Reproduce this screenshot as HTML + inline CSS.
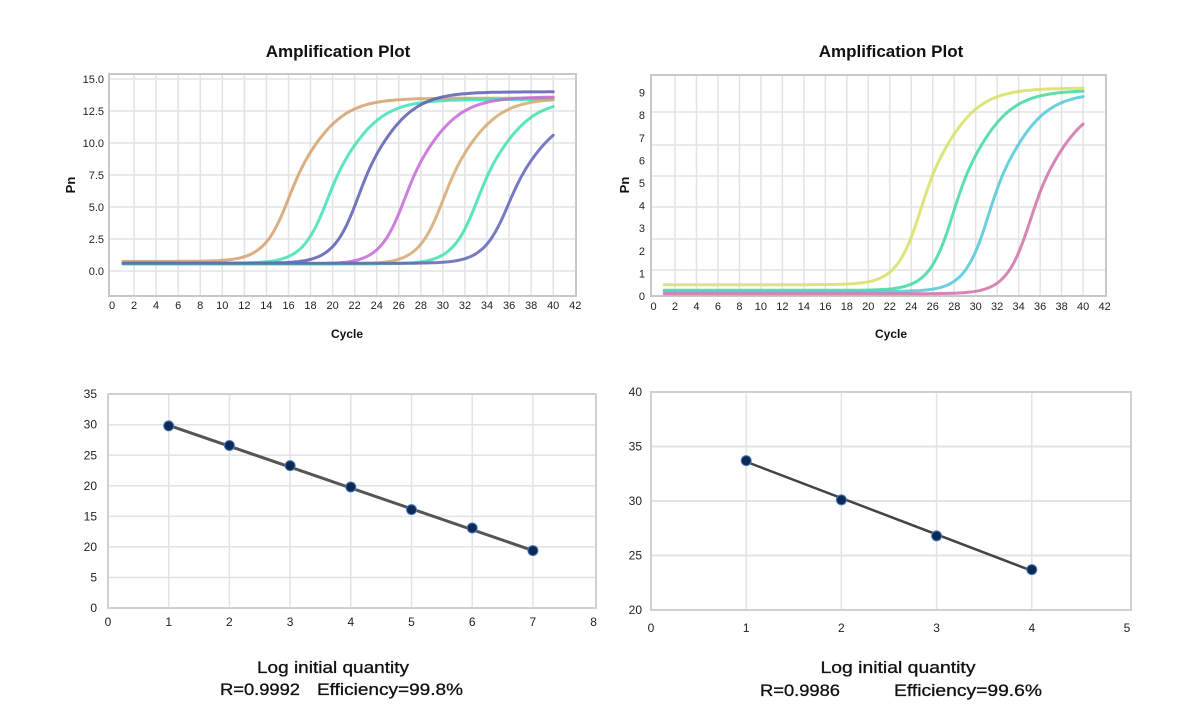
<!DOCTYPE html>
<html><head><meta charset="utf-8">
<style>
html,body{margin:0;padding:0;background:#fff;}
svg{display:block;font-family:"Liberation Sans",sans-serif;}
</style></head>
<body>
<svg id="s" width="1200" height="722" viewBox="0 0 1200 722" xmlns="http://www.w3.org/2000/svg">
<rect width="1200" height="722" fill="#fff"/>
<g id="g"></g>
<text x="338" y="57" text-anchor="middle" font-size="17" font-weight="bold" fill="#111">Amplification Plot</text>
<text x="891" y="57" text-anchor="middle" font-size="17" font-weight="bold" fill="#111">Amplification Plot</text>
<text x="347" y="338" text-anchor="middle" font-size="12" font-weight="bold" fill="#111">Cycle</text>
<text x="891" y="338" text-anchor="middle" font-size="12" font-weight="bold" fill="#111">Cycle</text>
<text transform="translate(75,185) rotate(-90)" text-anchor="middle" font-size="13" font-weight="bold" fill="#111">Pn</text>
<text transform="translate(629,185) rotate(-90)" text-anchor="middle" font-size="13" font-weight="bold" fill="#111">Pn</text>
<g font-size="17" fill="#111" text-anchor="middle" stroke="#111" stroke-width="0.3">
<text x="333" y="673" textLength="152" lengthAdjust="spacingAndGlyphs">Log initial quantity</text>
<text x="260" y="695" textLength="80" lengthAdjust="spacingAndGlyphs">R=0.9992</text>
<text x="390" y="695" textLength="146" lengthAdjust="spacingAndGlyphs">Efficiency=99.8%</text>
<text x="898" y="673" textLength="155" lengthAdjust="spacingAndGlyphs">Log initial quantity</text>
<text x="800" y="696" textLength="80" lengthAdjust="spacingAndGlyphs">R=0.9986</text>
<text x="968" y="696" textLength="148" lengthAdjust="spacingAndGlyphs">Efficiency=99.6%</text>
</g>
</svg>
<script>
var g=document.getElementById('g'),NS="http://www.w3.org/2000/svg";
function el(t,a,txt){var e=document.createElementNS(NS,t);for(var k in a)e.setAttribute(k,a[k]);if(txt!==undefined)e.textContent=txt;g.appendChild(e);return e;}
// ---- top-left
var L=109,T=74,R=576,B=296;
function xl(c){return 112+c*11.03;} function yl(v){return 271-v*12.8;}
for(var c=2;c<=40;c+=2)el('line',{x1:xl(c),y1:T,x2:xl(c),y2:B,stroke:'#e3e3e3','stroke-width':1.5});
for(var v=0;v<=15;v+=2.5)el('line',{x1:L,y1:yl(v),x2:R,y2:yl(v),stroke:'#e3e3e3','stroke-width':1.5});
el('rect',{x:L,y:T,width:R-L,height:B-T,fill:'none',stroke:'#c8c8c8','stroke-width':2});
for(var v=0;v<=15;v+=2.5)el('text',{x:104,y:yl(v)+4,'text-anchor':'end','font-size':11,fill:'#222'},v.toFixed(1));
for(var c=0;c<=42;c+=2)el('text',{x:xl(c),y:309,'text-anchor':'middle','font-size':11,fill:'#222'},c);
function curve(X,Y,base,plat,mid,k1,k2,col){var d='';for(var c=1;c<=40;c+=0.25){var s=1/(1+Math.exp(1.2*(c-mid)));var k=k2+(k1-k2)*s;var v=base+(plat-base)/(1+Math.exp(-k*(c-mid)));d+=(d?'L':'M')+X(c).toFixed(1)+','+Y(v).toFixed(1);}el('path',{d:d,fill:'none',stroke:col,'stroke-width':3,'stroke-linecap':'round','stroke-linejoin':'round',opacity:0.85});}
var tl=[[16.7,13.5,'#d4a070',0.75],[20.2,13.4,'#40e0b8',0.6],[23.0,14.0,'#5a5eb0',0.6],[27.2,13.6,'#c468d8',0.55],[30.7,13.5,'#d4a870',0.55],[33.8,13.4,'#40e0b0',0.55],[36.6,12.4,'#6064b8',0.6]];
tl.forEach(function(a){curve(xl,yl,a[3],a[1],a[0],0.75,0.5,a[2]);});
// ---- top-right
var L2=651,T2=75,R2=1106,B2=296;
function xr(c){return 653.5+c*10.74;} function yr(v){return 296-v*22.6;}
[112,145,176,207,239,270].forEach(function(y){el('line',{x1:L2,y1:y,x2:R2,y2:y,stroke:'#e3e3e3','stroke-width':1.5});});
for(var c=2;c<=40;c+=2)el('line',{x1:xr(c),y1:T2,x2:xr(c),y2:B2,stroke:'#e3e3e3','stroke-width':1.5});
el('rect',{x:L2,y:T2,width:R2-L2,height:B2-T2,fill:'none',stroke:'#c8c8c8','stroke-width':2});
for(var v=0;v<=9;v++)el('text',{x:645,y:yr(v)+4,'text-anchor':'end','font-size':11,fill:'#222'},v);
for(var c=0;c<=42;c+=2)el('text',{x:xr(c),y:310,'text-anchor':'middle','font-size':11,fill:'#222'},c);
curve(xr,yr,0.5,9.2,25.6,0.75,0.48,'#d8e060');
curve(xr,yr,0.25,9.1,28.6,0.75,0.48,'#40d8a0');
curve(xr,yr,0.2,9.0,31.9,0.75,0.48,'#50c8d8');
curve(xr,yr,0.1,8.6,35.8,0.75,0.48,'#d070a8');
// ---- bottom-left
var L3=108,T3=394,R3=596,B3=608;
function bx(v){return 108+v*60.7;} function by(v){return 608-v*6.11;}
for(var i=1;i<=7;i++)el('line',{x1:bx(i),y1:T3,x2:bx(i),y2:B3,stroke:'#e3e3e3','stroke-width':1.5});
for(var v=5;v<=30;v+=5)el('line',{x1:L3,y1:by(v),x2:R3,y2:by(v),stroke:'#e3e3e3','stroke-width':1.5});
el('rect',{x:L3,y:T3,width:R3-L3,height:B3-T3,fill:'none',stroke:'#d0d0d0','stroke-width':2});
var yl3=['0','5','20','15','20','25','30','35'];
for(var i=0;i<=7;i++)el('text',{x:97,y:by(i*5)+4,'text-anchor':'end','font-size':12,fill:'#222','font-family':'"Liberation Sans Narrow","Liberation Sans",sans-serif'},yl3[i]);
for(var i=0;i<=8;i++)el('text',{x:bx(i),y:626,'text-anchor':'middle','font-size':12,fill:'#222','font-family':'"Liberation Sans Narrow","Liberation Sans",sans-serif'},i);
var p1=[29.8,26.6,23.3,19.8,16.1,13.1,9.4];
el('line',{x1:bx(1),y1:by(29.9),x2:bx(7),y2:by(9.4),stroke:'#555','stroke-width':3});
p1.forEach(function(v,i){el('circle',{cx:bx(i+1),cy:by(v),r:5,fill:'#0d2a55',stroke:'#4a7ac0','stroke-width':1});});
// ---- bottom-right
var L4=651,T4=392,R4=1131,B4=610;
function cx(v){return 651+v*95.2;} function cy(v){return 610-(v-20)*10.9;}
for(var i=1;i<=4;i++)el('line',{x1:cx(i),y1:T4,x2:cx(i),y2:B4,stroke:'#e3e3e3','stroke-width':1.5});
[25,30,35].forEach(function(v){el('line',{x1:L4,y1:cy(v),x2:R4,y2:cy(v),stroke:'#e3e3e3','stroke-width':2});});
el('rect',{x:L4,y:T4,width:R4-L4,height:B4-T4,fill:'none',stroke:'#d0d0d0','stroke-width':2});
[20,25,30,35,40].forEach(function(v){el('text',{x:642,y:cy(v)+4,'text-anchor':'end','font-size':12,fill:'#222','font-family':'"Liberation Sans Narrow","Liberation Sans",sans-serif'},v);});
for(var i=0;i<=5;i++)el('text',{x:cx(i),y:632,'text-anchor':'middle','font-size':12,fill:'#222','font-family':'"Liberation Sans Narrow","Liberation Sans",sans-serif'},i);
var p2=[33.7,30.1,26.8,23.7];
el('line',{x1:cx(1),y1:cy(33.6),x2:cx(4),y2:cy(23.6),stroke:'#444','stroke-width':2.5});
p2.forEach(function(v,i){el('circle',{cx:cx(i+1),cy:cy(v),r:5,fill:'#0d2a55',stroke:'#4a7ac0','stroke-width':1});});
</script>
</body></html>
